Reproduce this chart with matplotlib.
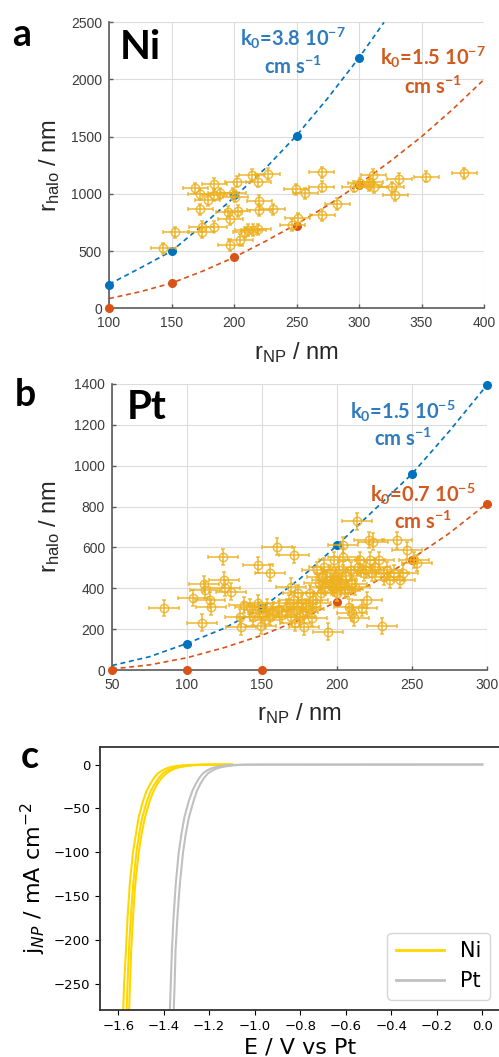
import matplotlib
matplotlib.use("Agg")
import matplotlib.pyplot as plt

plt.rcParams['mathtext.default'] = 'regular'

# ---- data ----
# panel a: Ni
ni_r = [143.5, 153, 169, 173, 173, 174, 174, 179, 184, 184, 184, 189, 195.5, 197, 199.5,
        201, 202.7, 203, 197, 205, 209, 211, 214, 215.5, 219.5, 219.5, 220, 220, 227, 231,
        249.6, 251, 246.7, 257, 270, 270, 270.7, 282.7, 296, 300.8, 308, 309, 311.5, 312,
        326, 329, 332, 353.6, 384]
ni_halo = [524, 664, 1049, 997, 865, 664, 714, 947, 1087, 991, 714, 1005, 845, 781, 1005,
           976, 1107, 851, 554, 597, 664, 685, 1166, 685, 690, 1107, 941, 860, 1174, 865,
           1040, 787, 728, 1005, 1189, 1063, 816, 912, 1063, 1093, 1078, 1107, 1166, 1058,
           1058, 991, 1131, 1151, 1180]
ni_model_r = [100, 150, 200, 250, 300]
ni_fast_pts = [200, 500, 990, 1510, 2190]
ni_slow_pts = [0, 220, 450, 720, 1080]
ni_fast_line_r = [100, 125, 150, 175, 200, 225, 250, 275, 300, 320]
ni_fast_line = [210, 352, 500, 727, 970, 1222, 1510, 1837, 2190, 2500]
ni_slow_line_r = [100, 125, 150, 175, 200, 225, 250, 275, 300, 325, 350, 375, 400]
ni_slow_line = [85, 145, 220, 325, 445, 585, 735, 900, 1085, 1285, 1500, 1740, 2000]

# panel b: Pt
pt_r = [84.9, 104, 110, 111, 112, 115.6, 116, 124, 124.6, 125, 129, 135, 136, 138, 142,
        144, 147, 147, 148, 149, 150.7, 153, 155, 155.6, 160, 163, 166.7, 168, 169, 169,
        171, 171, 172, 173, 174, 175.6, 176.7, 178, 179, 182, 184, 186.7, 188, 189, 190,
        191, 192, 193, 194, 195.6, 196.7, 198, 199, 200, 201, 202, 203, 204, 204, 205.6,
        208, 209, 210, 211, 212, 213, 214, 215.6, 216.7, 218, 219, 220, 221, 222, 223,
        224, 225.6, 227.8, 230, 231, 233, 235.6, 237.8, 240, 242, 244, 246.7, 251, 253,
        152, 157, 161, 177, 181, 183, 186, 197, 206, 210, 198, 207]
pt_halo = [302, 351, 232, 420, 392, 343, 310, 552, 441, 400, 384, 261, 212, 319, 310,
           261, 515, 327, 294, 216, 278, 310, 477, 261, 604, 270, 310, 327, 408, 261,
           564, 343, 229, 294, 376, 261, 327, 212, 310, 376, 343, 490, 425, 376, 457,
           506, 408, 441, 188, 474, 408, 539, 441, 376, 490, 408, 441, 612, 555, 392,
           310, 490, 278, 253, 408, 727, 506, 539, 302, 474, 490, 343, 637, 539, 474,
           629, 506, 539, 216, 457, 490, 441, 474, 634, 441, 474, 585, 539, 523,
           245, 290, 300, 285, 300, 255, 330, 430, 460, 420, 400, 395]
pt_fast_r = [100, 150, 200, 250, 300]
pt_fast_pts = [125, 305, 610, 960, 1395]
pt_slow_r = [50, 100, 150, 200, 250, 300]
pt_slow_pts = [0, 0, 0, 335, 540, 815]
pt_line_r = [50, 75, 100, 125, 150, 175, 200, 225, 250, 275, 300]
pt_fast_line = [22, 65, 130, 205, 305, 445, 610, 785, 960, 1170, 1395]
pt_slow_line = [5, 25, 60, 110, 170, 245, 335, 430, 545, 670, 815]

# panel c: j-E curves, E read at fixed current levels
j_levels = [-280, -250, -212, -175, -136, -100, -79, -60, -41, -30, -22, -15, -10,
            -7, -5, -3.5, -2.7, -1.8, -1, -0.5, -0.3, -0.1, 0]
ni_curves = [
    [-1.578, -1.574, -1.566, -1.559, -1.549, -1.535, -1.522, -1.510, -1.490, -1.475, -1.459,
     -1.442, -1.425, -1.408, -1.393, -1.378, -1.366, -1.347, -1.320, -1.287, -1.263, -1.21, -1.10],
    [-1.563, -1.559, -1.553, -1.545, -1.534, -1.520, -1.508, -1.494, -1.473, -1.457, -1.439,
     -1.421, -1.403, -1.386, -1.371, -1.356, -1.344, -1.325, -1.298, -1.265, -1.241, -1.19, -1.10],
    [-1.552, -1.548, -1.543, -1.535, -1.525, -1.510, -1.497, -1.482, -1.461, -1.444, -1.428,
     -1.408, -1.388, -1.370, -1.354, -1.337, -1.322, -1.303, -1.276, -1.243, -1.219, -1.17, -1.10],
]
pt_curves = [
    [-1.373, -1.369, -1.364, -1.357, -1.347, -1.334, -1.322, -1.309, -1.289, -1.274, -1.259,
     -1.243, -1.227, -1.211, -1.196, -1.180, -1.168, -1.150, -1.124, -1.093, -1.070, -1.02, 0.0],
    [-1.356, -1.352, -1.348, -1.340, -1.329, -1.315, -1.303, -1.289, -1.268, -1.254, -1.239,
     -1.222, -1.205, -1.188, -1.172, -1.155, -1.140, -1.122, -1.097, -1.066, -1.043, -0.99, 0.0],
]

BLUE = '#0072BD'
ORANGE = '#D95319'
YELLOW = '#EDB120'
TXT_BLUE = '#2E7BBF'
TXT_ORANGE = '#D35A1E'
BOLD_FONT = ['Lato', 'DejaVu Sans']
ARIAL = ['Liberation Sans', 'DejaVu Sans']
W, H = 499, 1057

fig = plt.figure(figsize=(W / 100, H / 100), dpi=100)


def matlab_axes(rect):
    ax = fig.add_axes(rect)
    ax.grid(True, color='#dcdcdc', lw=0.8)
    ax.set_axisbelow(True)
    for s in ['top', 'right']:
        ax.spines[s].set_visible(False)
    for s in ['left', 'bottom']:
        ax.spines[s].set_color('#5a5a5a')
        ax.spines[s].set_linewidth(1.2)
    ax.tick_params(direction='in', length=3, width=1, color='#5a5a5a',
                   labelcolor='#3c3c3c', labelsize=10)
    ax.tick_params(axis='x', pad=5.5)
    ax.tick_params(axis='y', pad=5)
    return ax


def finish_matlab(ax, ylab):
    for lab in ax.get_xticklabels() + ax.get_yticklabels():
        lab.set_fontfamily(ARIAL)
    ax.set_xlabel('r$_{NP}$ / nm', fontsize=17, family=ARIAL, color='#262626')
    ax.set_ylabel(ylab, fontsize=17, family=ARIAL, color='#262626')
    ax.xaxis.set_label_coords(0.5, -0.11)


def model(ax, lr, ly, pr, py, color):
    ax.plot(lr, ly, ls=(0, (3, 2.2)), color=color, lw=1.2)
    ax.plot(pr, py, 'o', color=color, ms=5.5, clip_on=False, zorder=4)


def data(ax, r, h, xe, ye):
    ax.errorbar(r, h, xerr=xe, yerr=ye, fmt='o', mfc='none', mec=YELLOW, ecolor=YELLOW,
                ms=6, mew=1.1, elinewidth=1.2, capsize=1.5, alpha=0.85, zorder=5)


# ---- panel a ----
ax_a = matlab_axes([109 / W, 1 - 308.3 / H, 375 / W, 286 / H])
model(ax_a, ni_fast_line_r, ni_fast_line, ni_model_r, ni_fast_pts, BLUE)
model(ax_a, ni_slow_line_r, ni_slow_line, ni_model_r, ni_slow_pts, ORANGE)
data(ax_a, ni_r, ni_halo, 10, 50)
ax_a.set_xlim(100, 400)
ax_a.set_ylim(0, 2500)
ax_a.set_xticks(range(100, 401, 50))
ax_a.set_yticks(range(0, 2501, 500))
finish_matlab(ax_a, 'r$_{halo}$ / nm')
ax_a.yaxis.set_label_coords(-0.125, 0.5)
ax_a.text(125, 2284, 'Ni', fontsize=29, weight='bold', family=BOLD_FONT, ha='center', va='center')
ax_a.text(247, 2361, 'k$_0$=3.8 10$^{-7}$', fontsize=14.5, weight='bold', family=BOLD_FONT,
          color=TXT_BLUE, ha='center', va='center')
ax_a.text(247, 2108, 'cm s$^{-1}$', fontsize=14.5, weight='bold', family=BOLD_FONT,
          color=TXT_BLUE, ha='center', va='center')
ax_a.text(359, 2195, 'k$_0$=1.5 10$^{-7}$', fontsize=14.5, weight='bold', family=BOLD_FONT,
          color=TXT_ORANGE, ha='center', va='center')
ax_a.text(359, 1933, 'cm s$^{-1}$', fontsize=14.5, weight='bold', family=BOLD_FONT,
          color=TXT_ORANGE, ha='center', va='center')

# ---- panel b ----
ax_b = matlab_axes([112 / W, 1 - 670 / H, 375 / W, 286 / H])
model(ax_b, pt_line_r, pt_fast_line, pt_fast_r, pt_fast_pts, BLUE)
model(ax_b, pt_line_r, pt_slow_line, pt_slow_r, pt_slow_pts, ORANGE)
data(ax_b, pt_r, pt_halo, 10, 40)
ax_b.set_xlim(50, 300)
ax_b.set_ylim(0, 1400)
ax_b.set_xticks(range(50, 301, 50))
ax_b.set_yticks(range(0, 1401, 200))
finish_matlab(ax_b, 'r$_{halo}$ / nm')
ax_b.yaxis.set_label_coords(-0.133, 0.5)
ax_b.text(73, 1287, 'Pt', fontsize=29, weight='bold', family=BOLD_FONT, ha='center', va='center')
ax_b.text(244, 1268, 'k$_0$=1.5 10$^{-5}$', fontsize=14.5, weight='bold', family=BOLD_FONT,
          color=TXT_BLUE, ha='center', va='center')
ax_b.text(244, 1131, 'cm s$^{-1}$', fontsize=14.5, weight='bold', family=BOLD_FONT,
          color=TXT_BLUE, ha='center', va='center')
ax_b.text(257, 861, 'k$_0$=0.7 10$^{-5}$', fontsize=14.5, weight='bold', family=BOLD_FONT,
          color=TXT_ORANGE, ha='center', va='center')
ax_b.text(257, 724, 'cm s$^{-1}$', fontsize=14.5, weight='bold', family=BOLD_FONT,
          color=TXT_ORANGE, ha='center', va='center')

# ---- panel c ----
ax_c = fig.add_axes([100 / W, 1 - 1010 / H, 400.5 / W, 263 / H])
for i, e in enumerate(ni_curves):
    ax_c.plot(e, j_levels, color='gold', lw=1.5, label='Ni' if i == 0 else None)
for i, e in enumerate(pt_curves):
    ax_c.plot(e, j_levels, color='silver', lw=1.5, label='Pt' if i == 0 else None)
ax_c.set_xlim(-1.68, 0.08)
ax_c.set_ylim(-280, 20)
ax_c.set_xticks([-1.6, -1.4, -1.2, -1.0, -0.8, -0.6, -0.4, -0.2, 0.0])
ax_c.set_yticks([0, -50, -100, -150, -200, -250])
ax_c.tick_params(labelsize=9.5, length=3.5)
for s in ax_c.spines.values():
    s.set_linewidth(1.3)
    s.set_color('#333333')
ax_c.set_xlabel('E / V vs Pt', fontsize=16)
ax_c.set_ylabel(r'j$_{\mathit{NP}}$ / mA cm$^{-2}$', fontsize=16)
ax_c.xaxis.set_label_coords(0.5, -0.105)
ax_c.yaxis.set_label_coords(-0.13, 0.5)
leg = ax_c.legend(loc='lower right', fontsize=15, handlelength=2.3, framealpha=1)
leg.get_frame().set_edgecolor('#d6d6d6')
for ln in leg.get_lines():
    ln.set_linewidth(2)

# panel letters
for letter, (px, py) in zip('abc', [(22, 35), (25, 395), (30, 757)]):
    fig.text(px / W, 1 - py / H, letter, fontsize=27, weight='bold', family=BOLD_FONT,
             ha='center', va='center')

fig.savefig('out.png', dpi=100)
